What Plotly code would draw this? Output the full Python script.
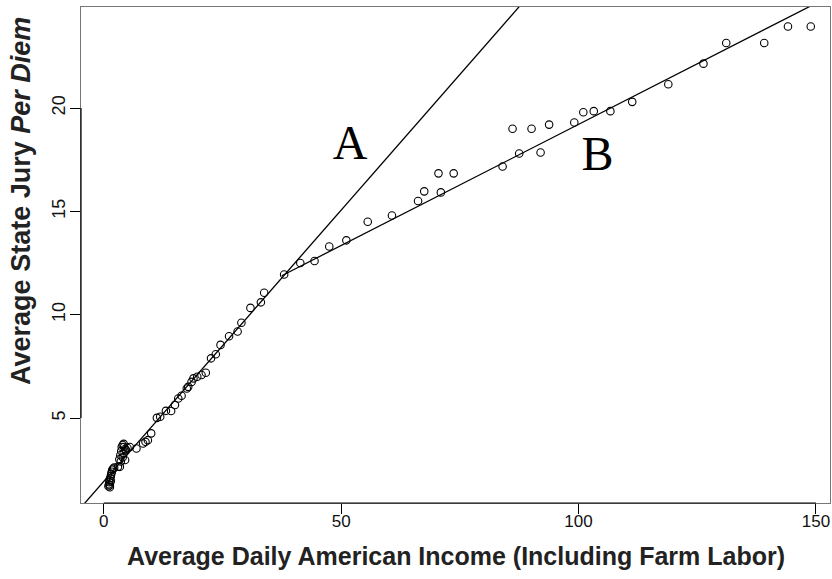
import plotly.graph_objects as go
import numpy as np

# Data
income = [1.0, 1.1, 1.2, 1.2, 1.3, 1.3, 1.4, 1.5, 1.5, 1.6, 1.7, 1.8, 2.0, 2.2,
          3.0, 3.4, 3.3, 3.5, 3.6, 3.7, 3.8, 4.0, 4.0, 4.2, 4.2, 4.3, 4.5, 4.5, 4.7, 5.0, 5.5,
          6.9, 8.3, 8.8, 9.3, 10.0, 11.2, 11.9, 13.1, 14.2, 15.0, 15.7, 16.4, 17.5, 17.8,
          18.5, 18.9, 19.7, 20.6, 21.5, 22.6, 23.6, 24.6, 26.4, 28.2, 29.0, 30.9, 33.1, 33.8,
          38.0, 41.4, 44.4, 47.5, 51.1, 55.6, 60.7, 66.2, 67.5, 71.0, 70.5, 73.7,
          84.0, 87.5, 92.0, 86.1, 90.1, 93.8, 99.1, 101.0, 103.2, 106.7, 111.3, 118.9,
          126.3, 131.1, 139.1, 144.1, 148.9]
perdiem = [1.7, 1.8, 1.9, 2.0, 1.75, 1.65, 2.1, 2.2, 1.95, 2.3, 2.4, 2.5, 2.55, 2.6,
           2.65, 2.64, 3.0, 3.2, 2.9, 3.4, 3.6, 3.7, 3.1, 3.75, 3.3, 3.6, 3.5, 2.97, 3.45, 3.55, 3.6,
           3.53, 3.77, 3.85, 3.93, 4.26, 5.01, 5.06, 5.35, 5.34, 5.63, 5.95, 6.08, 6.43, 6.51,
           6.75, 6.92, 7.0, 7.08, 7.19, 7.89, 8.09, 8.54, 8.96, 9.19, 9.61, 10.33, 10.6, 11.06,
           11.95, 12.5, 12.6, 13.3, 13.6, 14.5, 14.8, 15.5, 15.97, 15.92, 16.84, 16.84,
           17.17, 17.8, 17.85, 19.0, 19.0, 19.2, 19.3, 19.8, 19.85, 19.85, 20.3, 21.15,
           22.15, 23.15, 23.15, 23.95, 23.95]

line_a = [1.93, 0.2626]   # intercept, slope
line_b = [7.49, 0.1172]
line_b_start = 37.5

x_ticks = [0, 50, 100, 150]
y_ticks = [5, 10, 15, 20]
x_range = [-4.78, 152.95]
y_range = [0.89, 24.89]

labels = ["A", "B"]
label_x = [51.9, 104.0]
label_y = [18.1, 17.6]

xa = np.array(x_range)
xb = np.array([line_b_start, x_range[1]])

fig = go.Figure()
fig.add_trace(go.Scatter(x=xa, y=line_a[0] + line_a[1] * xa, mode="lines",
                         line=dict(color="black", width=1.3), showlegend=False,
                         hoverinfo="skip"))
fig.add_trace(go.Scatter(x=xb, y=line_b[0] + line_b[1] * xb, mode="lines",
                         line=dict(color="black", width=1.3), showlegend=False,
                         hoverinfo="skip"))
fig.add_trace(go.Scatter(x=income, y=perdiem, mode="markers",
                         marker=dict(symbol="circle-open", size=7.5, color="black",
                                     line=dict(width=1.1, color="black")),
                         showlegend=False))
fig.add_trace(go.Scatter(x=label_x, y=label_y, mode="text", text=labels,
                         textfont=dict(family="Liberation Serif", size=48, color="black"),
                         showlegend=False))

fig.update_xaxes(range=x_range, tickvals=x_ticks, ticks="outside", ticklen=10,
                 tickwidth=1.2, tickcolor="black",
                 tickfont=dict(family="Liberation Sans", size=17, color="#111"),
                 ticklabelstandoff=-7,
                 showgrid=False, zeroline=False, showline=True, mirror=True,
                 linecolor="#777", linewidth=1)
fig.update_yaxes(range=y_range, tickvals=y_ticks, ticks="outside", ticklen=10,
                 tickwidth=1.2, tickcolor="black",
                 tickfont=dict(family="Liberation Sans", size=18, color="#111"),
                 tickangle=-90, ticklabelstandoff=-2,
                 showgrid=False, zeroline=False, showline=True, mirror=True,
                 linecolor="#777", linewidth=1)

# R-style black axis segments spanning the ticks
fig.add_shape(type="line", xref="x", yref="paper", x0=x_ticks[0], x1=x_ticks[-1],
              y0=0, y1=0, line=dict(color="black", width=1.2))
fig.add_shape(type="line", xref="paper", yref="y", x0=0, x1=0,
              y0=y_ticks[0], y1=y_ticks[-1], line=dict(color="black", width=1.2))

fig.add_annotation(text="<b>Average Daily American Income (Including Farm Labor)</b>",
                   xref="paper", yref="paper", x=0.5, y=0, yshift=-53,
                   showarrow=False, xanchor="center", yanchor="middle",
                   font=dict(family="Liberation Sans", size=25, color="#222"))
fig.add_annotation(text="<b>Average State Jury <i>Per Diem</i></b>",
                   xref="paper", yref="paper", x=0, y=0.609, xshift=-60,
                   textangle=-90, showarrow=False, xanchor="center", yanchor="middle",
                   font=dict(family="Liberation Sans", size=27, color="#222"))

fig.update_layout(width=832, height=579, margin=dict(l=81, r=2, t=7, b=76, autoexpand=False),
                  plot_bgcolor="white", paper_bgcolor="white")
fig.write_html("out.html", config={"displayModeBar": False},
               post_script="document.body.style.margin='0px';document.body.style.overflow='hidden';")
